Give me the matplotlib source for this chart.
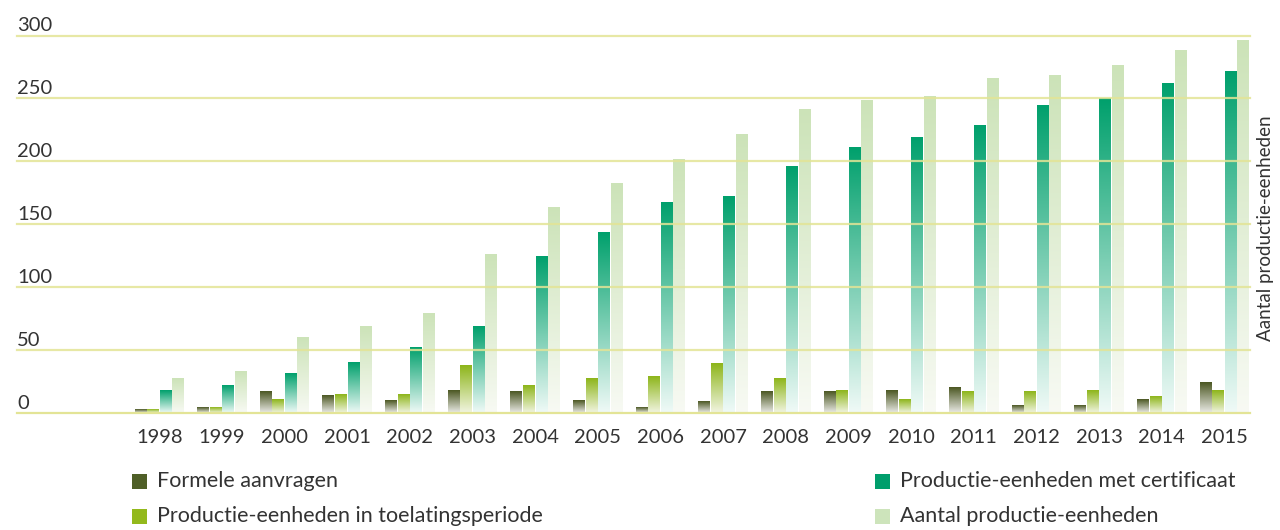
import matplotlib
matplotlib.use("Agg")
import matplotlib.pyplot as plt
import matplotlib.transforms as mtransforms
from matplotlib.colors import to_rgb
from matplotlib.patches import Rectangle
import numpy as np

years = [str(y) for y in range(1998, 2016)]
formele = [3, 4, 17, 14, 10, 18, 17, 10, 4, 9, 17, 17, 18, 20, 6, 6, 11, 24]
toelating = [3, 4, 11, 15, 15, 38, 22, 27, 29, 39, 27, 18, 11, 17, 17, 18, 13, 18]
certificaat = [18, 22, 31, 40, 52, 69, 124, 143, 167, 172, 196, 211, 219, 228, 244, 250, 262, 271]
aantal = [27, 33, 60, 69, 79, 126, 163, 182, 201, 221, 241, 248, 251, 266, 268, 276, 288, 296]

series_labels = [
    "Formele aanvragen",
    "Productie-eenheden in toelatingsperiode",
    "Productie-eenheden met certificaat",
    "Aantal productie-eenheden",
]
y_ticks = [0, 50, 100, 150, 200, 250, 300]

# (top colour, bottom colour) for each series gradient
GRADIENTS = [
    ("#4b5722", "#ecece8"),
    ("#8db51a", "#f2f5e2"),
    ("#00a06c", "#f0faf7"),
    ("#cce3b8", "#f8faf4"),
]
LEGEND_COLORS = ["#4f5f27", "#93b91c", "#009e6c", "#cde4bb"]
GRID_COLOR = "#e3e496"
TEXT_COLOR = "#333333"
FONT = ["Lato", "DejaVu Sans"]

plt.rcParams["font.family"] = FONT

fig = plt.figure(figsize=(12.8, 5.3), dpi=100)
ax = fig.add_axes([17 / 1280, 1 - 413.3 / 530, (1250 - 17) / 1280, (413.3 - 35.5) / 530])


def gradient_bar(ax, x0, width, height, top, bottom):
    if height <= 0:
        return
    t = np.linspace(0, 1, 256)[:, None, None]
    c_top = np.array(to_rgb(top))[None, None, :]
    c_bot = np.array(to_rgb(bottom))[None, None, :]
    img = c_top * (1 - t) + c_bot * t
    ax.imshow(img, extent=[x0, x0 + width, 0, height], origin="upper",
              aspect="auto", interpolation="bilinear", zorder=2)


x = np.arange(len(years))
bar_w = 0.2
draw_w = 0.188
all_series = [formele, toelating, certificaat, aantal]
for i, vals in enumerate(all_series):
    offset = (i - 1.5) * bar_w
    top, bottom = GRADIENTS[i]
    for xi, v in zip(x, vals):
        gradient_bar(ax, xi + offset - draw_w / 2, draw_w, v, top, bottom)

for v in y_ticks:
    ax.axhline(v, color=GRID_COLOR, linewidth=1.6, alpha=0.85 if v else 1.0,
               zorder=3, clip_on=False)

ax.set_xlim(-2.27, 17.41)
ax.set_ylim(0, 300)

for s in ax.spines.values():
    s.set_visible(False)
ax.set_yticks([])
ax.set_xticks(x)
ax.set_xticklabels(years, fontsize=14.5, color=TEXT_COLOR)
ax.tick_params(axis="x", length=0, pad=11)

trans = mtransforms.blended_transform_factory(ax.transAxes, ax.transData)
for v in y_ticks:
    ax.annotate(str(v), xy=(0, v), xycoords=trans, xytext=(0, 3),
                textcoords="offset points", ha="left", va="baseline",
                fontsize=14.5, color=TEXT_COLOR)

fig.text(1265 / 1280, 1 - 228 / 530, "Aantal productie-eenheden", rotation=90,
         ha="center", va="center", fontsize=13.5, color=TEXT_COLOR)

# Legend, two columns
legend_pos = [(132, 481), (132, 516), (875, 481), (875, 516)]
for (px, py), label, col in zip(legend_pos, series_labels, LEGEND_COLORS):
    fig.patches.append(Rectangle((px / 1280, 1 - (py + 7.5) / 530), 15 / 1280, 15 / 530,
                                 transform=fig.transFigure, facecolor=col,
                                 edgecolor="none"))
    fig.text((px + 25) / 1280, 1 - py / 530, label, ha="left", va="center",
             fontsize=15.5, color=TEXT_COLOR)

fig.savefig("out.png", dpi=100, facecolor="white")
